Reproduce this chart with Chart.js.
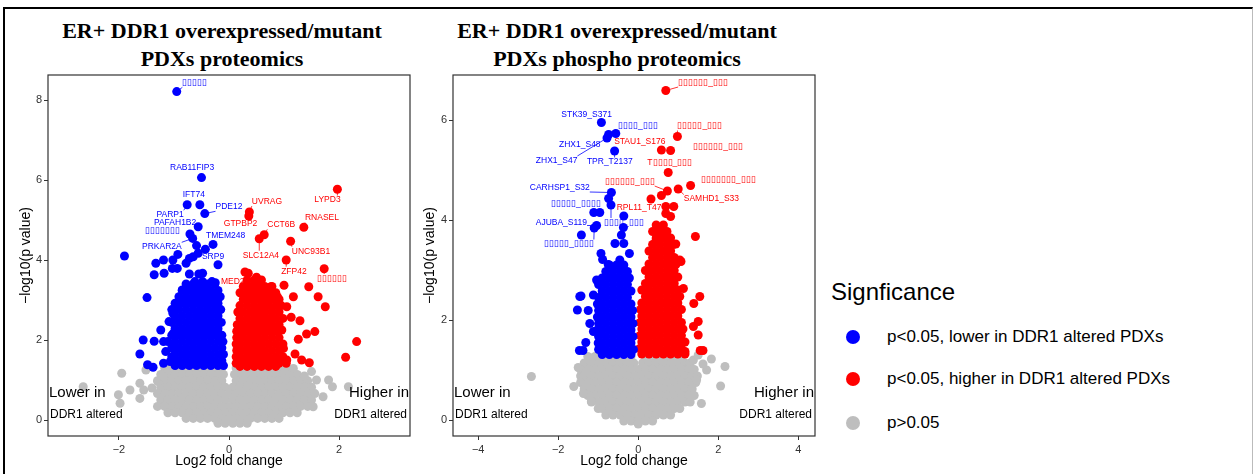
<!DOCTYPE html>
<html>
<head>
<meta charset="utf-8">
<script src="https://cdn.jsdelivr.net/npm/chart.js@4.4.1/dist/chart.umd.min.js"></script>
<style>
  body { margin: 0; width: 1254px; height: 474px; background: #fff; position: relative; overflow: hidden;
         font-family: "Liberation Sans", Arial, sans-serif; }
  #frame { position: absolute; left: 3px; top: 7px; width: 1247px; height: 480px;
           border-top: 2px solid #000; border-left: 2px solid #000; border-right: 1px solid #bbb; }
  .ttl { position: absolute; width: 420px; text-align: center; font-family: "Liberation Serif", "Times New Roman", serif;
         font-weight: bold; font-size: 22px; line-height: 28px; color: #000; }
  canvas { position: absolute; top: 0; }
  .lg { position: absolute; color: #000; white-space: nowrap; }
</style>
</head>
<body>
<div id="frame"></div>
<div class="ttl" style="left:12px; top:17px">ER+ DDR1 overexpressed/mutant<br>PDXs proteomics</div>
<div class="ttl" style="left:407px; top:17px">ER+ DDR1 overexpressed/mutant<br>PDXs phospho proteomics</div>
<canvas id="prot" width="420" height="474" style="left:0px"></canvas>
<canvas id="phos" width="420" height="474" style="left:404px"></canvas>
<div id="legend"></div>
<script>
// ---- colours / legend ----
const downColor = '#0000FF';
const upColor = '#FF0000';
const nsColor = '#BEBEBE';
const legendTitle = 'Signficance';
const legendLabels = ['p<0.05, lower in DDR1 altered PDXs', 'p<0.05, higher in DDR1 altered PDXs', 'p>0.05'];
const legendColors = [downColor, upColor, nsColor];
const noteGroup = 'DDR1 altered';

// ---- axis ticks ----
const protXTicks = [-2, 0, 2];
const protYTicks = [0, 2, 4, 6, 8];
const phosXTicks = [-4, -2, 0, 2, 4];
const phosYTicks = [0, 2, 4, 6];

// ---- proteomics (left) : rows are [log10p, [log2fc, ...]] ----
const protGrayRows = [
  [1.30, [-1.17,-1.04,-0.91,-0.78,-0.65,-0.52,-0.39,-0.26,-0.13,0.13,0.26,0.39,0.52,0.65,0.78,0.91,1.04]],
  [1.14, [-1.24,-1.11,-0.98,-0.85,-0.72,-0.59,-0.46,-0.33,-0.20,-0.10,0.10,0.20,0.33,0.46,0.59,0.72,0.85,0.98,1.11,1.24]],
  [0.98, [-1.30,-1.17,-1.04,-0.91,-0.78,-0.65,-0.52,-0.39,-0.26,-0.13,0.13,0.26,0.39,0.52,0.65,0.78,0.91,1.04,1.17,1.30,1.43]],
  [0.82, [-1.24,-1.11,-0.98,-0.85,-0.72,-0.59,-0.46,-0.33,-0.20,-0.07,0.07,0.20,0.33,0.46,0.59,0.72,0.85,0.98,1.11,1.24,1.37,1.50]],
  [0.66, [-1.30,-1.17,-1.04,-0.91,-0.78,-0.65,-0.52,-0.39,-0.26,-0.13,0.00,0.13,0.26,0.39,0.52,0.65,0.78,0.91,1.04,1.17,1.30,1.43,1.56]],
  [0.50, [-1.24,-1.11,-0.98,-0.85,-0.72,-0.59,-0.46,-0.33,-0.20,-0.07,0.07,0.20,0.33,0.46,0.59,0.72,0.85,0.98,1.11,1.24,1.37,1.50]],
  [0.34, [-1.30,-1.17,-1.04,-0.91,-0.78,-0.65,-0.52,-0.39,-0.26,-0.13,0.00,0.13,0.26,0.39,0.52,0.65,0.78,0.91,1.04,1.17,1.30,1.43]],
  [0.18, [-1.11,-0.98,-0.85,-0.72,-0.59,-0.46,-0.33,-0.20,-0.07,0.07,0.20,0.33,0.46,0.59,0.72,0.85,0.98,1.11,1.24]],
  [0.04, [-0.78,-0.65,-0.52,-0.39,-0.26,-0.13,0.00,0.13,0.26,0.39,0.52,0.65,0.78,0.91]],
  [-0.08, [-0.20,-0.07,0.07,0.20,0.33]]
];
const protGrayExtra = [[-2.65,0.83],[-1.95,1.17],[-1.80,0.75],[-2.01,0.63],[-1.98,0.42],[-1.62,0.92],[-1.55,0.75],
  [-1.62,0.54],[-1.51,1.25],[-1.29,0.96],[-1.19,1.08],[-1.40,0.80],[1.17,1.29],[1.50,1.21],[1.59,1.00],[1.81,1.00],
  [1.88,0.83],[1.71,0.58],[2.17,0.83],[1.53,0.33],[1.37,1.10]];

const protDownRows = [
  [3.40, [-0.78,-0.65,-0.52,-0.39,-0.26]],
  [3.24, [-0.85,-0.72,-0.59,-0.46,-0.33,-0.20]],
  [3.08, [-0.91,-0.78,-0.65,-0.52,-0.39,-0.26,-0.16]],
  [2.92, [-0.98,-0.85,-0.72,-0.59,-0.46,-0.33,-0.20]],
  [2.76, [-1.04,-0.91,-0.78,-0.65,-0.52,-0.39,-0.26,-0.15]],
  [2.60, [-0.98,-0.85,-0.72,-0.59,-0.46,-0.33,-0.20]],
  [2.44, [-1.04,-0.91,-0.78,-0.65,-0.52,-0.39,-0.26,-0.14]],
  [2.28, [-0.98,-0.85,-0.72,-0.59,-0.46,-0.33,-0.20]],
  [2.12, [-1.04,-0.91,-0.78,-0.65,-0.52,-0.39,-0.26,-0.13]],
  [1.96, [-1.11,-0.98,-0.85,-0.72,-0.59,-0.46,-0.33,-0.20,-0.11]],
  [1.80, [-1.04,-0.91,-0.78,-0.65,-0.52,-0.39,-0.26,-0.13]],
  [1.64, [-0.98,-0.85,-0.72,-0.59,-0.46,-0.33,-0.20,-0.10]],
  [1.48, [-1.04,-0.91,-0.78,-0.65,-0.52,-0.39,-0.26,-0.13]],
  [1.36, [-0.98,-0.85,-0.72,-0.59,-0.46,-0.33,-0.20,-0.10]]
];
const protDownExtra = [[-1.90,4.10],[-1.33,3.92],[-1.19,4.00],[-1.02,4.00],[-0.93,4.14],[-1.36,3.63],[-1.18,3.67],
  [-1.03,3.79],[-0.94,3.79],[-0.78,3.92],[-0.72,4.04],[-0.65,4.08],[-0.56,4.17],[-0.43,4.27],[-0.72,3.65],[-0.55,3.65],
  [-0.48,3.67],[-0.85,3.25],[-1.49,3.06],[-1.62,1.65],[-1.48,1.38],[-1.38,1.32],[-1.19,1.42],[-1.56,2.00],[-1.36,1.97],
  [-1.24,2.25],[-1.19,1.96],[-1.15,1.71],[-1.07,1.46],[-1.04,1.58],[-1.01,1.83],[-1.09,2.46],[-1.02,2.67],[-0.96,2.88],
  [-1.01,2.17],[-0.68,3.33],[-0.48,3.46],[-0.31,3.46],[-0.35,3.21],[-0.62,3.46],[-0.25,3.43],[-0.29,3.17],[-0.59,4.36]];

const protUpRows = [
  [3.50, [0.33,0.46,0.59]],
  [3.34, [0.26,0.39,0.52,0.65,0.78]],
  [3.18, [0.20,0.33,0.46,0.59,0.72,0.85]],
  [3.02, [0.26,0.39,0.52,0.65,0.78,0.91]],
  [2.86, [0.20,0.33,0.46,0.59,0.72,0.85,0.95]],
  [2.70, [0.16,0.26,0.39,0.52,0.65,0.78,0.91]],
  [2.54, [0.20,0.33,0.46,0.59,0.72,0.85,0.98]],
  [2.38, [0.15,0.26,0.39,0.52,0.65,0.78,0.91]],
  [2.22, [0.14,0.20,0.33,0.46,0.59,0.72,0.85]],
  [2.06, [0.14,0.26,0.39,0.52,0.65,0.78,0.91]],
  [1.90, [0.13,0.20,0.33,0.46,0.59,0.72,0.85,0.98]],
  [1.74, [0.14,0.26,0.39,0.52,0.65,0.78,0.91]],
  [1.58, [0.13,0.20,0.33,0.46,0.59,0.72,0.85,0.98]],
  [1.42, [0.13,0.26,0.39,0.52,0.65,0.78,0.91,1.04]],
  [1.34, [0.20,0.33,0.46,0.59,0.72,0.85]]
];
const protUpExtra = [[0.50,3.57],[0.55,3.48],[1.00,3.37],[1.45,3.33],[0.76,3.33],[1.62,3.08],[1.17,3.08],[0.88,3.08],
  [0.47,3.29],[0.69,3.23],[2.32,1.96],[2.12,1.57],[1.75,2.83],[1.56,2.21],[1.41,2.15],[1.26,2.02],[1.29,2.48],[1.13,2.57],
  [1.05,2.83],[1.46,1.43],[1.32,1.50],[1.20,1.65],[1.05,1.50],[0.96,2.25],[0.99,1.79],[0.35,3.67]];

// labelled genes: [text, log2fc, log10p, label x, label y, draw segment]
const protDownLabels = [
  ['\u25AF\u25AF\u25AF\u25AF\u25AF', -0.95, 8.21, -0.62, 8.43, 1],
  ['RAB11FIP3', -0.50, 6.06, -0.67, 6.30, 0],
  ['IFT74', -0.53, 5.38, -0.64, 5.63, 0],
  ['PARP1', -0.76, 5.38, -1.07, 5.13, 1],
  ['PDE12', -0.44, 5.16, 0.00, 5.33, 1],
  ['PAFAH1B2', -0.56, 4.83, -0.98, 4.93, 0],
  ['\u25AF\u25AF\u25AF\u25AF\u25AF\u25AF\u25AF', -0.71, 4.65, -1.21, 4.73, 0],
  ['TMEM248', -0.29, 4.39, -0.06, 4.60, 0],
  ['PRKAR2A', -0.66, 4.54, -1.22, 4.33, 1],
  ['SRP9', -0.20, 3.88, -0.29, 4.08, 0]
];
const protUpLabels = [
  ['UVRAG', 0.37, 5.20, 0.69, 5.46, 1],
  ['GTPBP2', 0.36, 5.10, 0.21, 4.90, 0],
  ['LYPD3', 1.97, 5.77, 1.79, 5.50, 1],
  ['RNASEL', 1.36, 4.82, 1.69, 5.05, 1],
  ['CCT6B', 0.64, 4.63, 0.95, 4.88, 1],
  ['SLC12A4', 0.55, 4.53, 0.58, 4.12, 1],
  ['UNC93B1', 1.12, 4.47, 1.49, 4.22, 1],
  ['ZFP42', 1.04, 4.00, 1.18, 3.72, 1],
  ['\u25AF\u25AF\u25AF\u25AF\u25AF\u25AF', 1.73, 3.78, 1.87, 3.54, 1],
  ['MED24', 0.29, 3.70, 0.11, 3.46, 1]
];

// ---- phospho proteomics (right) ----
const phosGrayRows = [
  [1.27, [-1.26,-1.08,-0.90,-0.72,-0.54,-0.36,-0.18,0.18,0.36,0.54,0.72,0.90,1.08]],
  [1.14, [-1.35,-1.17,-0.99,-0.81,-0.63,-0.45,-0.27,-0.11,0.11,0.27,0.45,0.63,0.81,0.99,1.17,1.30]],
  [1.01, [-1.44,-1.26,-1.08,-0.90,-0.72,-0.54,-0.36,-0.18,0.00,0.18,0.36,0.54,0.72,0.90,1.08,1.26,1.40]],
  [0.88, [-1.44,-1.35,-1.17,-0.99,-0.81,-0.63,-0.45,-0.27,-0.09,0.09,0.27,0.45,0.63,0.81,0.99,1.17,1.35,1.48]],
  [0.75, [-1.44,-1.26,-1.08,-0.90,-0.72,-0.54,-0.36,-0.18,0.00,0.18,0.36,0.54,0.72,0.90,1.08,1.26,1.44]],
  [0.62, [-1.35,-1.17,-0.99,-0.81,-0.63,-0.45,-0.27,-0.09,0.09,0.27,0.45,0.63,0.81,0.99,1.17,1.35]],
  [0.49, [-1.26,-1.08,-0.90,-0.72,-0.54,-0.36,-0.18,0.00,0.18,0.36,0.54,0.72,0.90,1.08,1.26,1.40]],
  [0.36, [-1.17,-0.99,-0.81,-0.63,-0.45,-0.27,-0.09,0.09,0.27,0.45,0.63,0.81,0.99,1.17,1.30]],
  [0.23, [-1.00,-0.90,-0.72,-0.54,-0.36,-0.18,0.00,0.18,0.36,0.54,0.72,0.90,1.04]],
  [0.10, [-0.81,-0.63,-0.45,-0.27,-0.09,0.09,0.27,0.45,0.63,0.81]],
  [-0.02, [-0.36,-0.18,0.00,0.18,0.36]],
  [-0.08, [0.00]]
];
const phosGrayExtra = [[-2.67,0.87],[-1.61,0.67],[-1.37,0.53],[-1.17,0.37],[1.83,1.22],[2.17,1.07],[2.06,0.68],
  [1.71,1.00],[1.46,0.80],[1.58,0.33],[1.38,1.20],[1.62,1.12],[1.50,1.30],[-1.50,1.05]];

const phosDownRows = [
  [3.10, [-0.72,-0.54,-0.36]],
  [2.97, [-0.81,-0.63,-0.45,-0.27]],
  [2.84, [-0.90,-0.72,-0.54,-0.36,-0.22]],
  [2.71, [-0.99,-0.81,-0.63,-0.45,-0.27]],
  [2.58, [-0.90,-0.72,-0.54,-0.36,-0.18]],
  [2.45, [-0.99,-0.81,-0.63,-0.45,-0.27]],
  [2.32, [-1.02,-0.90,-0.72,-0.54,-0.36,-0.18]],
  [2.19, [-0.99,-0.81,-0.63,-0.45,-0.27,-0.14]],
  [2.06, [-1.02,-0.90,-0.72,-0.54,-0.36,-0.18]],
  [1.93, [-0.99,-0.81,-0.63,-0.45,-0.27,-0.13]],
  [1.80, [-1.02,-0.90,-0.72,-0.54,-0.36,-0.18]],
  [1.67, [-0.99,-0.81,-0.63,-0.45,-0.27,-0.13]],
  [1.54, [-1.00,-0.90,-0.72,-0.54,-0.36,-0.18]],
  [1.41, [-0.99,-0.81,-0.63,-0.45,-0.27,-0.12]],
  [1.31, [-0.90,-0.72,-0.54,-0.36,-0.18]]
];
const phosDownExtra = [[-0.37,3.85],[-0.42,3.70],[-0.58,3.53],[-0.36,3.53],[-0.22,3.33],[-0.93,3.33],[-0.89,3.21],
  [-0.75,3.11],[-0.46,3.20],[-1.04,2.80],[-1.46,2.47],[-1.43,2.48],[-1.52,2.20],[-1.25,2.19],[-1.12,2.50],[-1.31,1.55],
  [-1.47,1.39],[-1.38,1.39],[-1.21,1.93],[-1.12,1.77],[-1.11,4.15],[-0.96,4.15],[-1.42,3.70],[-0.36,4.08]];

const phosUpRows = [
  [3.90, [0.45,0.63]],
  [3.77, [0.36,0.54,0.72]],
  [3.64, [0.45,0.63,0.81]],
  [3.51, [0.36,0.54,0.72,0.88]],
  [3.38, [0.27,0.45,0.63,0.81]],
  [3.25, [0.36,0.54,0.72,0.90]],
  [3.12, [0.27,0.45,0.63,0.81,0.95]],
  [2.99, [0.18,0.36,0.54,0.72,0.90]],
  [2.86, [0.27,0.45,0.63,0.81,0.99]],
  [2.73, [0.18,0.36,0.54,0.72,0.90]],
  [2.60, [0.09,0.27,0.45,0.63,0.81,0.99]],
  [2.47, [0.18,0.36,0.54,0.72,0.90,1.04]],
  [2.34, [0.09,0.27,0.45,0.63,0.81,0.99]],
  [2.21, [0.06,0.18,0.36,0.54,0.72,0.90,1.08]],
  [2.08, [0.09,0.27,0.45,0.63,0.81,0.99]],
  [1.95, [0.05,0.18,0.36,0.54,0.72,0.90,1.08]],
  [1.82, [0.09,0.27,0.45,0.63,0.81,0.99,1.12]],
  [1.69, [0.05,0.18,0.36,0.54,0.72,0.90,1.08]],
  [1.56, [0.09,0.27,0.45,0.63,0.81,0.99,1.17]],
  [1.43, [0.04,0.18,0.36,0.54,0.72,0.90,1.08]],
  [1.32, [0.09,0.27,0.45,0.63,0.81,0.99,1.17]]
];
const phosUpExtra = [[0.58,4.49],[0.32,4.42],[0.89,4.27],[1.43,3.67],[0.94,3.52],[1.04,3.20],[1.07,3.17],[1.54,2.47],
  [1.39,2.33],[1.50,1.97],[1.38,1.87],[1.50,1.70],[1.62,1.39],[1.13,2.63],[1.17,1.37],[0.69,4.13],[0.81,4.07],
  [0.58,3.80],[0.54,3.73],[0.44,3.57],[1.55,1.39]];

const phosDownLabels = [
  ['STK39_S371', -0.92, 5.95, -1.29, 6.11, 0],
  ['\u25AF\u25AF\u25AF\u25AF_\u25AF\u25AF\u25AF', -0.56, 5.73, -0.01, 5.88, 1],
  ['ZHX1_S48', -0.74, 5.71, -1.46, 5.50, 0],
  ['ZHX1_S47', -0.78, 5.64, -2.04, 5.19, 1],
  ['TPR_T2137', -0.59, 5.38, -0.71, 5.16, 1],
  ['CARHSP1_S32', -0.67, 4.55, -1.96, 4.65, 1],
  ['\u25AF\u25AF\u25AF\u25AF\u25AF_\u25AF\u25AF\u25AF\u25AF', -0.74, 4.43, -1.56, 4.33, 0],
  ['\u25AF\u25AF\u25AF\u25AF_\u25AF\u25AF\u25AF', -0.68, 4.30, -0.36, 3.95, 1],
  ['AJUBA_S119', -1.04, 3.89, -1.92, 3.95, 1],
  ['\u25AF\u25AF\u25AF\u25AF\u25AF_\u25AF\u25AF\u25AF\u25AF', -1.10, 3.84, -1.73, 3.52, 1]
];
const phosUpLabels = [
  ['\u25AF\u25AF\u25AF\u25AF\u25AF\u25AF_\u25AF\u25AF\u25AF', 0.69, 6.59, 1.62, 6.75, 1],
  ['\u25AF\u25AF\u25AF\u25AF\u25AF_\u25AF\u25AF\u25AF', 0.98, 5.67, 1.54, 5.88, 1],
  ['STAU1_S176', 0.58, 5.40, 0.04, 5.57, 0],
  ['\u25AF\u25AF\u25AF\u25AF\u25AF\u25AF_\u25AF\u25AF\u25AF', 0.81, 5.39, 2.00, 5.46, 0],
  ['T\u25AF\u25AF\u25AF\u25AF_\u25AF\u25AF\u25AF', 0.75, 4.95, 0.79, 5.15, 0],
  ['\u25AF\u25AF\u25AF\u25AF\u25AF\u25AF_\u25AF\u25AF\u25AF', 0.73, 4.58, -0.21, 4.77, 1],
  ['\u25AF\u25AF\u25AF\u25AF\u25AF\u25AF\u25AF_\u25AF\u25AF\u25AF', 1.31, 4.69, 2.25, 4.81, 0],
  ['SAMHD1_S33', 1.00, 4.62, 1.83, 4.42, 1],
  ['RPL11_T47', 0.69, 4.27, 0.02, 4.25, 0]
];

// ---- helpers ----
const SANS = '"Liberation Sans", Arial, sans-serif';

function rowsToPts(rows) {
  const out = [];
  rows.forEach(([y, xs]) => xs.forEach(x => out.push({x, y})));
  return out;
}
const pairs = list => list.map(([x, y]) => ({x, y}));
const labelPts = list => list.map(l => ({x: l[1], y: l[2]}));
const tickText = v => v < 0 ? '\u2212' + Math.abs(v) : String(v);

// draws panel box, gene labels and the "Lower in / Higher in" notes
function panelDeco(downLabels, upLabels) {
  return {
    id: 'panelDeco',
    afterDatasetsDraw(chart) {
      const {ctx, chartArea: a, scales: {x, y}} = chart;
      ctx.save();
      ctx.font = '8.5px ' + SANS;
      ctx.textAlign = 'center';
      ctx.textBaseline = 'middle';
      const drawLabel = (l, col) => {
        const [txt, px, py, lx, ly, seg] = l;
        const p = {x: x.getPixelForValue(px), y: y.getPixelForValue(py)};
        const c = {x: x.getPixelForValue(lx), y: y.getPixelForValue(ly)};
        const w = ctx.measureText(txt).width, h = 9;
        if (seg) {
          const bx = Math.max(c.x - w / 2, Math.min(p.x, c.x + w / 2));
          const by = Math.max(c.y - h / 2, Math.min(p.y, c.y + h / 2));
          ctx.strokeStyle = col;
          ctx.lineWidth = 0.8;
          ctx.beginPath(); ctx.moveTo(p.x, p.y); ctx.lineTo(bx, by); ctx.stroke();
        }
        ctx.fillStyle = col;
        ctx.fillText(txt, c.x, c.y);
      };
      downLabels.forEach(l => drawLabel(l, downColor));
      upLabels.forEach(l => drawLabel(l, upColor));

      ctx.fillStyle = '#000';
      ctx.textBaseline = 'alphabetic';
      ctx.font = '15px ' + SANS;
      ctx.textAlign = 'left';
      ctx.fillText('Lower in', a.left + 1, a.bottom - 39);
      ctx.textAlign = 'right';
      ctx.fillText('Higher in', a.right - 1, a.bottom - 39);
      ctx.font = '12px ' + SANS;
      ctx.textBaseline = 'middle';
      ctx.textAlign = 'left';
      ctx.fillText(noteGroup, a.left + 2, a.bottom - 21);
      ctx.textAlign = 'right';
      ctx.fillText(noteGroup, a.right - 3, a.bottom - 21);

      ctx.strokeStyle = '#333';
      ctx.lineWidth = 1.2;
      ctx.strokeRect(a.left, a.top, a.right - a.left, a.bottom - a.top);
      ctx.restore();
    }
  };
}

function volcano(id, p) {
  const grid = {drawOnChartArea: false, drawTicks: true, tickLength: 4, color: '#333'};
  return new Chart(document.getElementById(id), {
    type: 'scatter',
    data: {
      datasets: [
        {data: p.down, backgroundColor: downColor},
        {data: p.up, backgroundColor: upColor},
        {data: p.gray, backgroundColor: nsColor}
      ]
    },
    options: {
      responsive: false,
      animation: false,
      devicePixelRatio: 1,
      layout: {padding: {left: 0, top: 75, right: p.padRight, bottom: 0}},
      elements: {point: {radius: 4.5, hoverRadius: 4.5, borderWidth: 0}},
      plugins: {legend: {display: false}, tooltip: {enabled: false}},
      scales: {
        x: {
          type: 'linear', min: p.xMin, max: p.xMax,
          afterBuildTicks: s => { s.ticks = p.xTicks.map(v => ({value: v})); },
          afterFit: s => { s.height = 38; },
          grid, border: {display: false},
          ticks: {color: '#333', font: {family: SANS, size: 11}, padding: 3, callback: tickText},
          title: {display: true, text: 'Log2 fold change', color: '#000',
                  font: {family: SANS, size: 14}, padding: {top: 0, bottom: 4}}
        },
        y: {
          type: 'linear', min: p.yMin, max: p.yMax,
          afterBuildTicks: s => { s.ticks = p.yTicks.map(v => ({value: v})); },
          afterFit: s => { s.width = p.axisW; },
          grid, border: {display: false},
          ticks: {color: '#333', font: {family: SANS, size: 11}, padding: 2, callback: tickText},
          title: {display: true, text: '\u2212log10(p value)', color: '#000',
                  font: {family: SANS, size: 14}, padding: {top: 17.6, bottom: 0}}
        }
      }
    },
    plugins: [panelDeco(p.downLabels, p.upLabels)]
  });
}

volcano('prot', {
  gray: rowsToPts(protGrayRows).concat(pairs(protGrayExtra)),
  down: rowsToPts(protDownRows).concat(pairs(protDownExtra), labelPts(protDownLabels)),
  up: rowsToPts(protUpRows).concat(pairs(protUpExtra), labelPts(protUpLabels)),
  downLabels: protDownLabels, upLabels: protUpLabels,
  xMin: -3.29, xMax: 3.29, yMin: -0.4, yMax: 8.625,
  xTicks: protXTicks, yTicks: protYTicks, axisW: 48, padRight: 10
});

volcano('phos', {
  gray: rowsToPts(phosGrayRows).concat(pairs(phosGrayExtra)),
  down: rowsToPts(phosDownRows).concat(pairs(phosDownExtra), labelPts(phosDownLabels)),
  up: rowsToPts(phosUpRows).concat(pairs(phosUpExtra), labelPts(phosUpLabels)),
  downLabels: phosDownLabels, upLabels: phosUpLabels,
  xMin: -4.63, xMax: 4.42, yMin: -0.32, yMax: 6.9,
  xTicks: phosXTicks, yTicks: phosYTicks, axisW: 49, padRight: 9
});

// ---- shared legend ----
const lg = document.getElementById('legend');
let html = '<div class="lg" style="left:831px; top:277px; font-size:24px; line-height:30px">' + legendTitle + '</div>';
const rowY = [337, 379, 423];
legendLabels.forEach((t, i) => {
  html += '<div class="lg" style="left:846px; top:' + (rowY[i] - 7) + 'px; width:14px; height:14px; border-radius:7px; background:' + legendColors[i] + '"></div>';
  html += '<div class="lg" style="left:887px; top:' + (rowY[i] - 11) + 'px; font-size:17px; line-height:22px">' + t.replace('<', '&lt;').replace('>', '&gt;') + '</div>';
});
lg.innerHTML = html;
</script>
</body>
</html>
